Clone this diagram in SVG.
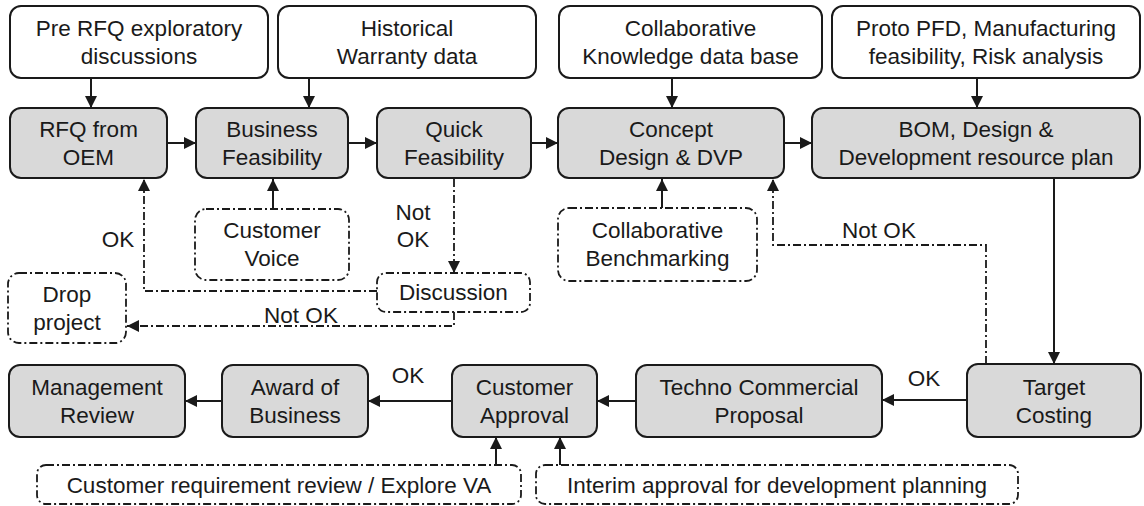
<svg xmlns="http://www.w3.org/2000/svg" width="1144" height="506" viewBox="0 0 1144 506">
  <defs>
    <marker id="arrow" markerUnits="userSpaceOnUse" markerWidth="12" markerHeight="12" refX="12" refY="6" orient="auto">
      <path d="M0,0 L12,6 L0,12 z" fill="#1a1a1a"/>
    </marker>
  </defs>
  <style>
    .input rect { fill: #ffffff; stroke: #1a1a1a; stroke-width: 2; }
    .step rect { fill: #d9d9d9; stroke: #1a1a1a; stroke-width: 2; }
    .aux rect { fill: #ffffff; stroke: #1a1a1a; stroke-width: 1.8; stroke-dasharray: 8 3 2 3; }
    text { font-family: "Liberation Sans", Arial, sans-serif; font-size: 22.5px; fill: #1a1a1a; text-anchor: middle; }
    .conn { fill: none; stroke: #1a1a1a; stroke-width: 2; }
    .dash { stroke-width: 1.8; stroke-dasharray: 8 3 2 3; }
  </style>

  <rect width="1144" height="506" fill="#ffffff"/>

  <!-- connectors -->
  <g id="connectors">
    <!-- inputs feeding the main steps -->
    <path class="conn" d="M91,78 V108" marker-end="url(#arrow)"/>
    <path class="conn" d="M309,78 V108" marker-end="url(#arrow)"/>
    <path class="conn" d="M672,78 V108" marker-end="url(#arrow)"/>
    <path class="conn" d="M977,78 V108" marker-end="url(#arrow)"/>
    <!-- main flow, top row -->
    <path class="conn" d="M167,143 H196" marker-end="url(#arrow)"/>
    <path class="conn" d="M348,143 H377" marker-end="url(#arrow)"/>
    <path class="conn" d="M531,143 H558" marker-end="url(#arrow)"/>
    <path class="conn" d="M784,143 H812" marker-end="url(#arrow)"/>
    <path class="conn" d="M1054,178 V364" marker-end="url(#arrow)"/>
    <!-- main flow, bottom row -->
    <path class="conn" d="M967,400 H882" marker-end="url(#arrow)"/>
    <path class="conn" d="M636,401 H597" marker-end="url(#arrow)"/>
    <path class="conn" d="M452,401 H368" marker-end="url(#arrow)"/>
    <path class="conn" d="M222,401 H185" marker-end="url(#arrow)"/>
    <!-- supporting activities -->
    <path class="conn" d="M273,209 V179" marker-end="url(#arrow)"/>
    <path class="conn" d="M662,208 V179" marker-end="url(#arrow)"/>
    <path class="conn" d="M496,465 V437" marker-end="url(#arrow)"/>
    <path class="conn" d="M560,465 V437" marker-end="url(#arrow)"/>
    <!-- decision loops -->
    <path class="conn dash" d="M454,179 V273" marker-end="url(#arrow)"/>
    <path class="conn dash" d="M377,291 H144 V179" marker-end="url(#arrow)"/>
    <path class="conn dash" d="M454,312 V326 H127" marker-end="url(#arrow)"/>
    <path class="conn dash" d="M986,364 V245 H773 V179" marker-end="url(#arrow)"/>
    <!-- connector labels -->
    <text x="413" y="220">Not</text>
    <text x="413" y="247">OK</text>
    <text x="118" y="247">OK</text>
    <text x="301" y="323">Not OK</text>
    <text x="879" y="238">Not OK</text>
    <text x="408" y="383">OK</text>
    <text x="924" y="386">OK</text>
  </g>

  <!-- inputs -->
  <g id="pre-rfq" class="input">
    <rect x="10" y="6" width="258" height="72" rx="11"/>
    <text x="139" y="36">Pre RFQ exploratory</text>
    <text x="139" y="64">discussions</text>
  </g>
  <g id="warranty" class="input">
    <rect x="278" y="6" width="258" height="72" rx="11"/>
    <text x="407" y="36">Historical</text>
    <text x="407" y="64">Warranty data</text>
  </g>
  <g id="knowledge-base" class="input">
    <rect x="559" y="6" width="263" height="72" rx="11"/>
    <text x="690.5" y="36">Collaborative</text>
    <text x="690.5" y="64">Knowledge data base</text>
  </g>
  <g id="proto-pfd" class="input">
    <rect x="832" y="6" width="308" height="72" rx="11"/>
    <text x="986" y="36">Proto PFD, Manufacturing</text>
    <text x="986" y="64">feasibility, Risk analysis</text>
  </g>

  <!-- main steps, top row -->
  <g id="rfq" class="step">
    <rect x="10" y="108" width="157" height="70" rx="11"/>
    <text x="88.5" y="137">RFQ from</text>
    <text x="88.5" y="165">OEM</text>
  </g>
  <g id="business-feasibility" class="step">
    <rect x="196" y="108" width="152" height="70" rx="11"/>
    <text x="272" y="137">Business</text>
    <text x="272" y="165">Feasibility</text>
  </g>
  <g id="quick-feasibility" class="step">
    <rect x="377" y="108" width="154" height="70" rx="11"/>
    <text x="454" y="137">Quick</text>
    <text x="454" y="165">Feasibility</text>
  </g>
  <g id="concept-design" class="step">
    <rect x="558" y="108" width="226" height="70" rx="11"/>
    <text x="671" y="137">Concept</text>
    <text x="671" y="165">Design &amp; DVP</text>
  </g>
  <g id="bom-plan" class="step">
    <rect x="812" y="108" width="328" height="70" rx="11"/>
    <text x="976" y="137">BOM, Design &amp;</text>
    <text x="976" y="165">Development resource plan</text>
  </g>

  <!-- supporting activities -->
  <g id="customer-voice" class="aux">
    <rect x="195" y="209" width="154" height="71" rx="11"/>
    <text x="272" y="238">Customer</text>
    <text x="272" y="266">Voice</text>
  </g>
  <g id="benchmarking" class="aux">
    <rect x="558" y="208" width="199" height="73" rx="11"/>
    <text x="657.5" y="238">Collaborative</text>
    <text x="657.5" y="266">Benchmarking</text>
  </g>
  <g id="discussion" class="aux">
    <rect x="377" y="273" width="153" height="39" rx="9"/>
    <text x="453.5" y="300">Discussion</text>
  </g>
  <g id="drop-project" class="aux">
    <rect x="8" y="273" width="118" height="70" rx="11"/>
    <text x="67" y="302">Drop</text>
    <text x="67" y="330">project</text>
  </g>

  <!-- main steps, bottom row -->
  <g id="target-costing" class="step">
    <rect x="967" y="364" width="174" height="73" rx="11"/>
    <text x="1054" y="395">Target</text>
    <text x="1054" y="423">Costing</text>
  </g>
  <g id="techno-commercial" class="step">
    <rect x="636" y="365" width="246" height="72" rx="11"/>
    <text x="759" y="395">Techno Commercial</text>
    <text x="759" y="423">Proposal</text>
  </g>
  <g id="customer-approval" class="step">
    <rect x="452" y="365" width="145" height="72" rx="11"/>
    <text x="524.5" y="395">Customer</text>
    <text x="524.5" y="423">Approval</text>
  </g>
  <g id="award" class="step">
    <rect x="222" y="365" width="146" height="72" rx="11"/>
    <text x="295" y="395">Award of</text>
    <text x="295" y="423">Business</text>
  </g>
  <g id="management-review" class="step">
    <rect x="9" y="365" width="176" height="72" rx="11"/>
    <text x="97" y="395">Management</text>
    <text x="97" y="423">Review</text>
  </g>

  <!-- approval inputs -->
  <g id="requirement-review" class="aux">
    <rect x="37" y="465" width="484" height="39" rx="9"/>
    <text x="279" y="493">Customer requirement review / Explore VA</text>
  </g>
  <g id="interim-approval" class="aux">
    <rect x="536" y="465" width="482" height="39" rx="9"/>
    <text x="777" y="493">Interim approval for development planning</text>
  </g>
</svg>
